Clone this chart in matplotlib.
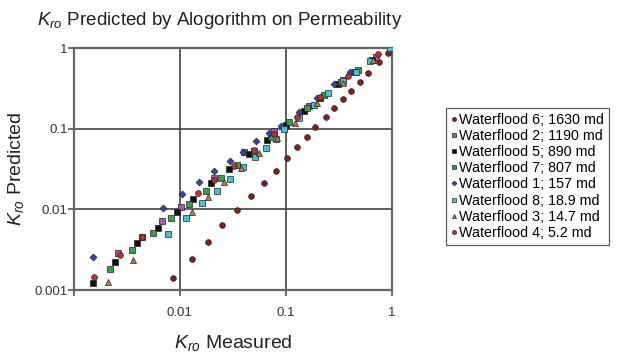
import matplotlib
matplotlib.use('Agg')  # Non-interactive backend
import matplotlib.pyplot as plt

plt.rcParams['font.family'] = ['Liberation Sans', 'DejaVu Sans']
plt.rcParams['mathtext.fontset'] = 'custom'
plt.rcParams['mathtext.it'] = 'Liberation Sans:italic'
plt.rcParams['mathtext.rm'] = 'Liberation Sans'

# Measured vs predicted Kro, one pair of lists per waterflood
wf6_meas = [0.0086, 0.0129, 0.0183, 0.0252, 0.0348, 0.0471, 0.0622, 0.0808, 0.102, 0.127,
            0.157, 0.19, 0.237, 0.287, 0.348, 0.414, 0.502, 0.597, 0.757, 0.918]
wf6_pred = [0.0014, 0.0024, 0.0039, 0.0064, 0.0098, 0.0147, 0.0212, 0.030, 0.0434, 0.0593,
            0.079, 0.105, 0.140, 0.181, 0.233, 0.293, 0.379, 0.490, 0.671, 0.867]

wf2_meas = [0.00264, 0.00679, 0.0102, 0.0212, 0.0405, 0.0773, 0.164, 0.348, 0.708]
wf2_pred = [0.00288, 0.00718, 0.0107, 0.0245, 0.0514, 0.0936, 0.191, 0.401, 0.773]

wf5_meas = [0.00151, 0.00247, 0.00396, 0.00442, 0.00622, 0.00938, 0.0132, 0.0199, 0.0293,
            0.0451, 0.0664, 0.100, 0.147, 0.212, 0.313, 0.451, 0.650]
wf5_pred = [0.00122, 0.00223, 0.00383, 0.00455, 0.00588, 0.00929, 0.0135, 0.0212, 0.0317,
            0.0486, 0.0724, 0.111, 0.166, 0.240, 0.358, 0.504, 0.710]

wf7_meas = [0.00222, 0.00356, 0.0056, 0.00824, 0.0121, 0.0175, 0.0247, 0.0348, 0.0502,
            0.0724, 0.107, 0.157, 0.227, 0.333, 0.481]
wf7_pred = [0.00183, 0.00314, 0.0051, 0.00782, 0.0117, 0.0169, 0.0245, 0.0355, 0.0529,
            0.0789, 0.121, 0.181, 0.262, 0.379, 0.534]

wf1_meas = [0.00151, 0.00693, 0.0104, 0.0151, 0.0212, 0.030, 0.0396, 0.0525, 0.0693,
            0.0898, 0.132, 0.195, 0.287, 0.404]
wf1_pred = [0.00257, 0.0104, 0.0155, 0.0219, 0.0299, 0.0398, 0.0514, 0.0704, 0.0885,
            0.108, 0.161, 0.240, 0.358, 0.504]

wf8_meas = [0.00773, 0.0114, 0.0161, 0.0222, 0.030, 0.0396, 0.0513, 0.065, 0.0808, 0.0957,
            0.132, 0.183, 0.252, 0.348, 0.461, 0.622, 0.95]
wf8_pred = [0.00496, 0.00782, 0.012, 0.0169, 0.0238, 0.0335, 0.0446, 0.0577, 0.0745, 0.0991,
            0.136, 0.197, 0.277, 0.390, 0.504, 0.690, 0.99]

wf3_meas = [0.00212, 0.00364, 0.0129, 0.0183, 0.0264, 0.0379, 0.056, 0.0824, 0.121, 0.195,
            0.348, 0.664]
wf3_pred = [0.00126, 0.00236, 0.00929, 0.0143, 0.0219, 0.0326, 0.050, 0.0767, 0.118, 0.208,
            0.368, 0.710]

wf4_meas = [0.00154, 0.00275, 0.00442, 0.0147, 0.0212, 0.0327, 0.0502, 0.0773, 0.127, 0.212,
            0.388, 0.740]
wf4_pred = [0.00145, 0.00272, 0.00455, 0.016, 0.0231, 0.0345, 0.0545, 0.086, 0.140, 0.247,
            0.450, 0.843]

series = [
    ('Waterflood 6; 1630 md', wf6_meas, wf6_pred, 'o', '#8b1c1c'),
    ('Waterflood 2; 1190 md', wf2_meas, wf2_pred, 's', '#a05cb0'),
    ('Waterflood 5; 890 md', wf5_meas, wf5_pred, 's', '#111111'),
    ('Waterflood 7; 807 md', wf7_meas, wf7_pred, 's', '#36a046'),
    ('Waterflood 1; 157 md', wf1_meas, wf1_pred, 'D', '#3444c0'),
    ('Waterflood 8; 18.9 md', wf8_meas, wf8_pred, 's', '#44c2d4'),
    ('Waterflood 3; 14.7 md', wf3_meas, wf3_pred, '^', '#c07a44'),
    ('Waterflood 4; 5.2 md', wf4_meas, wf4_pred, 'o', '#d02a2a'),
]

fig = plt.figure(figsize=(6.25, 3.53), dpi=100)
ax = fig.add_axes([0.118, 0.178, 0.509, 0.686])

for label, xs, ys, mk, col in series:
    ms = 3.5 if mk == 'D' else 4.1
    ax.plot(xs, ys, linestyle='none', marker=mk, markersize=ms, color=col,
            markeredgecolor='#222222', markeredgewidth=0.5, label=label, zorder=3)

ax.set_xscale('log')
ax.set_yscale('log')
ax.set_xlim(0.001, 1)
ax.set_ylim(0.001, 1)

ax.set_xticks([0.001, 0.01, 0.1, 1])
ax.set_xticklabels(['', '0.01', '0.1', '1'])
ax.set_yticks([0.001, 0.01, 0.1, 1])
ax.set_yticklabels(['0.001', '0.01', '0.1', '1'])
ax.minorticks_off()
ax.tick_params(axis='both', direction='out', length=4, width=1.2, color='#555555',
               labelsize=9.5, labelcolor='#333333')
ax.tick_params(axis='x', pad=8)
ax.tick_params(axis='y', pad=0.5)

ax.grid(True, which='major', color='#444444', linewidth=1.2, zorder=1)
ax.set_axisbelow(True)
for sp in ax.spines.values():
    sp.set_color('#666666')
    sp.set_linewidth(1.6)

ax.set_xlabel(r'$K_{ro}$ Measured', fontsize=14, labelpad=10, color='#222222')
ax.set_ylabel(r'$K_{ro}$ Predicted', fontsize=14, labelpad=6, color='#222222')
fig.text(0.059, 0.943, r'$K_{ro}$ Predicted by Alogorithm on Permeability',
         fontsize=13.5, va='center', ha='left', color='#222222')

leg = ax.legend(loc='center left', bbox_to_anchor=(1.17, 0.47), fontsize=10.3,
                markerscale=0.7, handlelength=0.45, handletextpad=0.12,
                labelspacing=0.15, borderpad=0.35, frameon=True, fancybox=False,
                shadow=False, borderaxespad=0)
leg.get_frame().set_edgecolor('#333333')
leg.get_frame().set_linewidth(0.9)

plt.savefig('out.png', dpi=100)
plt.close()
